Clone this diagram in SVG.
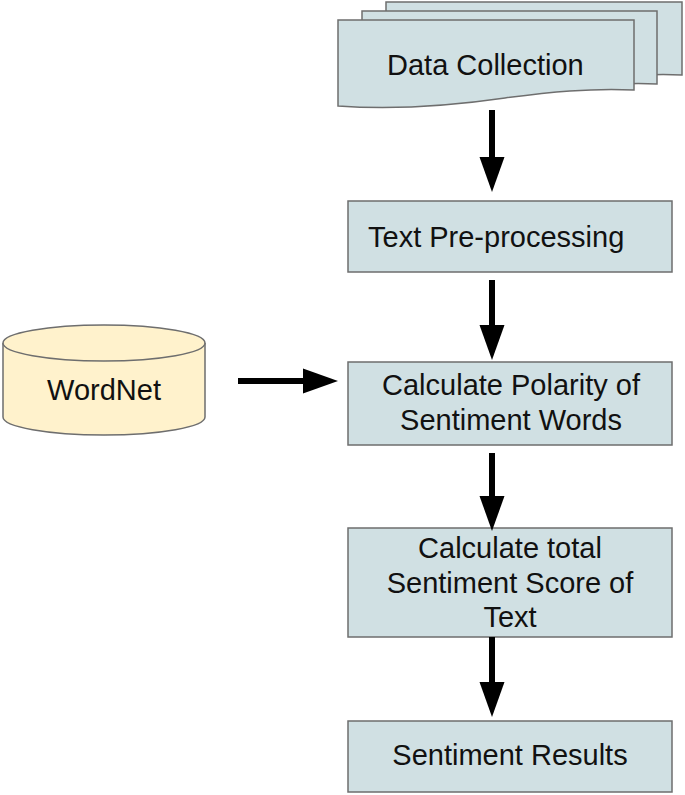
<svg xmlns="http://www.w3.org/2000/svg" width="685" height="795" viewBox="0 0 685 795">
<style>
.box{fill:#d0e0e3;stroke:#6e6e6e;stroke-width:1.5}
.db{fill:#fff2cc;stroke:#6e6e6e;stroke-width:1.5}
.t{font-family:"Liberation Sans",Arial,sans-serif;font-size:29px;fill:#111}
.c{text-anchor:middle}
.arr{stroke:#000;stroke-width:6;fill:none}
</style>
<defs>
<marker id="ah" markerUnits="userSpaceOnUse" markerWidth="36" markerHeight="26" refX="0" refY="13" orient="auto">
<path d="M0,0.5 L35,13 L0,25.5 Z" fill="#000"/>
</marker>
</defs>
<rect width="685" height="795" fill="#fff"/>
<g id="data-collection">
<path class="box" d="M386,2 H682 V75 C640,73 600,78 560,84 C500,90 440,92 386,90 Z"/>
<path class="box" d="M362,11 H657 V84 C615,82 575,87 535,93 C475,99 415,101 362,99 Z"/>
<path class="box" d="M338,20 H634 V90 C590,88 550,92 505,98 C450,106 395,110 338,106 Z"/>
<text class="t" x="387" y="75">Data Collection</text>
</g>
<g id="text-preprocessing">
<rect class="box" x="348" y="201" width="324" height="71"/>
<text class="t" x="368" y="247">Text Pre-processing</text>
</g>
<g id="calculate-polarity">
<rect class="box" x="348" y="362" width="324" height="83"/>
<text class="t c" x="511" y="395">Calculate Polarity of</text>
<text class="t c" x="511" y="430">Sentiment Words</text>
</g>
<g id="total-score">
<rect class="box" x="348" y="528" width="324" height="109"/>
<text class="t c" x="510" y="558">Calculate total</text>
<text class="t c" x="510" y="593">Sentiment Score of</text>
<text class="t c" x="510" y="627">Text</text>
</g>
<g id="sentiment-results">
<rect class="box" x="348" y="721" width="324" height="71"/>
<text class="t c" x="510" y="765">Sentiment Results</text>
</g>
<g id="wordnet">
<path class="db" d="M3,343 V417 A101,18 0 0 0 205,417 V343"/>
<ellipse class="db" cx="104" cy="343" rx="101" ry="18"/>
<text class="t c" x="104" y="400">WordNet</text>
</g>
<g id="connectors">
<line class="arr" x1="492" y1="110" x2="492" y2="157" marker-end="url(#ah)"/>
<line class="arr" x1="492" y1="280" x2="492" y2="325" marker-end="url(#ah)"/>
<line class="arr" x1="492" y1="453" x2="492" y2="496" marker-end="url(#ah)"/>
<line class="arr" x1="492" y1="637" x2="492" y2="682" marker-end="url(#ah)"/>
<line class="arr" x1="238" y1="381" x2="303" y2="381" marker-end="url(#ah)"/>
</g>
</svg>
